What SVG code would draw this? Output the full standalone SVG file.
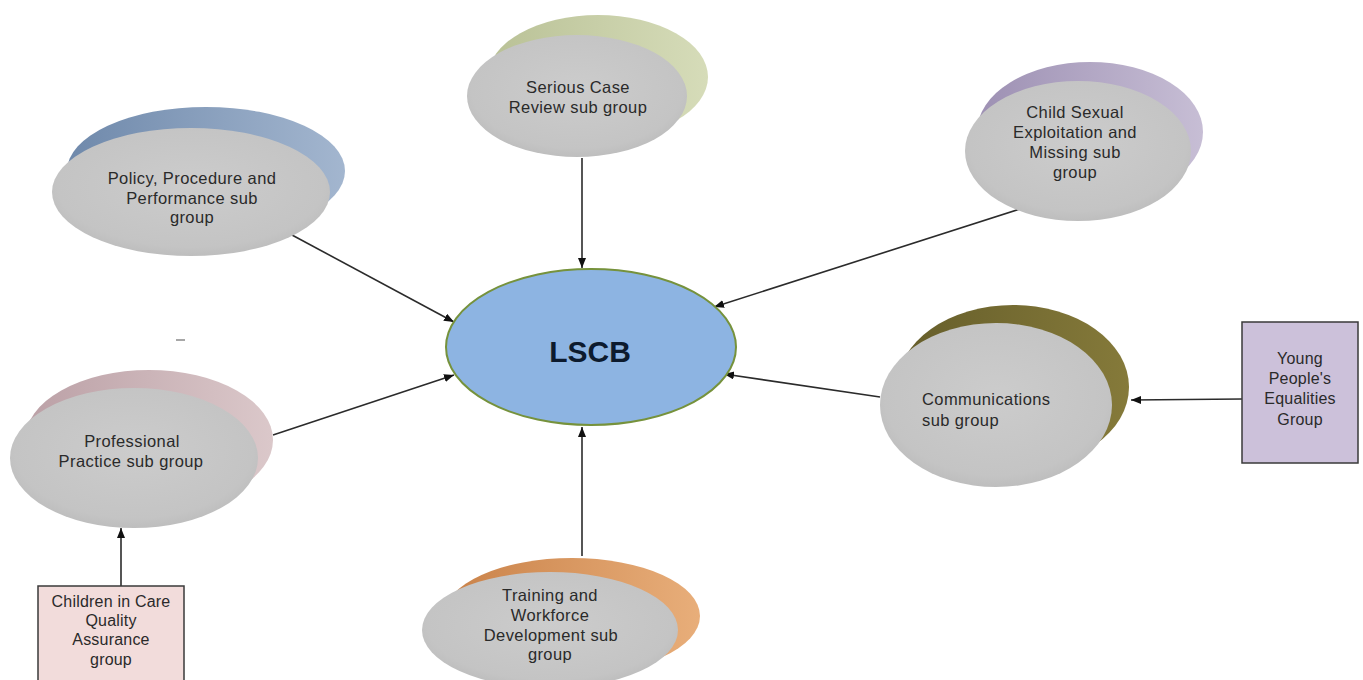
<svg xmlns="http://www.w3.org/2000/svg" width="1363" height="680" viewBox="0 0 1363 680">
<style>
.lbl{font-family:"Liberation Sans",Arial,sans-serif;font-size:16.5px;fill:#2a2a2a;text-anchor:middle;letter-spacing:0.4px}
.lft{text-anchor:start}
.box{font-size:16px;letter-spacing:0.2px}
.disc{fill:url(#grey)}
.conn{stroke:#2b2b2b;stroke-width:1.6;fill:none;marker-end:url(#arr)}
.rect{stroke:#3a3a3a;stroke-width:1.5}
</style>
<defs>
<marker id="arr" markerUnits="userSpaceOnUse" markerWidth="11" markerHeight="9" refX="10" refY="4" orient="auto">
<path d="M0,0 L10,4 L0,8 z" fill="#111"/>
</marker>
<radialGradient id="grey" cx="0.5" cy="0.45" r="0.6">
<stop offset="0" stop-color="#cccccc"/>
<stop offset="0.8" stop-color="#c4c4c4"/>
<stop offset="1" stop-color="#b9b9b9"/>
</radialGradient>
<linearGradient id="gSage" x1="0" y1="0" x2="1" y2="0"><stop offset="0" stop-color="#b9c196"/><stop offset="1" stop-color="#d6dcb9"/></linearGradient>
<linearGradient id="gBlue" x1="0" y1="0" x2="1" y2="0"><stop offset="0" stop-color="#6f89ab"/><stop offset="1" stop-color="#a3b6cf"/></linearGradient>
<linearGradient id="gLav" x1="0" y1="0" x2="1" y2="0"><stop offset="0" stop-color="#9d90b3"/><stop offset="1" stop-color="#c7bed5"/></linearGradient>
<linearGradient id="gPink" x1="0" y1="0" x2="1" y2="0"><stop offset="0" stop-color="#bba0a6"/><stop offset="1" stop-color="#dbc8ca"/></linearGradient>
<linearGradient id="gOlive" x1="0" y1="0" x2="1" y2="0"><stop offset="0" stop-color="#655d2a"/><stop offset="1" stop-color="#857a3a"/></linearGradient>
<linearGradient id="gOrange" x1="0" y1="0" x2="1" y2="0"><stop offset="0" stop-color="#c98148"/><stop offset="1" stop-color="#e8ae7a"/></linearGradient>
</defs>
<rect width="1363" height="680" fill="#ffffff"/>

<path d="M176,340 L185,340" stroke="#8a8a8a" stroke-width="1.5"/>

<g id="connectors">
<line class="conn" x1="582" y1="158" x2="582" y2="268"/>
<line class="conn" x1="292" y1="235" x2="454" y2="322"/>
<line class="conn" x1="1020" y1="209" x2="714" y2="307"/>
<line class="conn" x1="880" y1="397" x2="724" y2="374"/>
<line class="conn" x1="273" y1="435" x2="454" y2="375"/>
<line class="conn" x1="582" y1="556" x2="582" y2="427"/>
<line class="conn" x1="121" y1="586" x2="121" y2="528"/>
<line class="conn" x1="1242" y1="399" x2="1131" y2="400"/>
</g>

<g id="lscb">
<ellipse cx="591" cy="347" rx="145" ry="78" fill="#8db4e2" stroke="#76923c" stroke-width="2"/>
<text x="590" y="362" style="font-family:'Liberation Sans',Arial,sans-serif;font-size:30px;font-weight:bold;fill:#0d1b2e;text-anchor:middle">LSCB</text>
</g>

<g id="serious-case">
<ellipse cx="598" cy="77" rx="110" ry="62" fill="url(#gSage)"/>
<ellipse class="disc" cx="577" cy="96" rx="110" ry="61"/>
<text class="lbl" x="578" y="93">Serious Case</text>
<text class="lbl" x="578" y="113">Review sub group</text>
</g>

<g id="policy">
<ellipse cx="206" cy="171" rx="139" ry="64" fill="url(#gBlue)"/>
<ellipse class="disc" cx="191" cy="192" rx="139" ry="64"/>
<text class="lbl" x="192" y="184">Policy, Procedure and</text>
<text class="lbl" x="192" y="204">Performance sub</text>
<text class="lbl" x="192" y="223">group</text>
</g>

<g id="cse">
<ellipse cx="1090" cy="132" rx="113" ry="70" fill="url(#gLav)"/>
<ellipse class="disc" cx="1078" cy="151" rx="113" ry="70"/>
<text class="lbl" x="1075" y="118">Child Sexual</text>
<text class="lbl" x="1075" y="138">Exploitation and</text>
<text class="lbl" x="1075" y="158">Missing sub</text>
<text class="lbl" x="1075" y="178">group</text>
</g>

<g id="professional">
<ellipse cx="149" cy="440" rx="124" ry="70" fill="url(#gPink)"/>
<ellipse class="disc" cx="134" cy="458" rx="124" ry="70"/>
<text class="lbl" x="132" y="447">Professional</text>
<text class="lbl" x="131" y="467">Practice sub group</text>
</g>

<g id="communications">
<ellipse cx="1013" cy="387" rx="116" ry="82" fill="url(#gOlive)"/>
<ellipse class="disc" cx="996" cy="405" rx="116" ry="82"/>
<text class="lbl lft" x="922" y="405">Communications</text>
<text class="lbl lft" x="922" y="426">sub group</text>
</g>

<g id="training">
<ellipse cx="572" cy="616" rx="128" ry="58" fill="url(#gOrange)"/>
<ellipse class="disc" cx="550" cy="630" rx="128" ry="58"/>
<text class="lbl" x="550" y="601">Training and</text>
<text class="lbl" x="550" y="621">Workforce</text>
<text class="lbl" x="551" y="641">Development sub</text>
<text class="lbl" x="550" y="660">group</text>
</g>

<g id="young-people">
<rect class="rect" x="1242" y="322" width="116" height="141" fill="#ccc1da"/>
<text class="lbl box" x="1300" y="364">Young</text>
<text class="lbl box" x="1300" y="384">People's</text>
<text class="lbl box" x="1300" y="404">Equalities</text>
<text class="lbl box" x="1300" y="425">Group</text>
</g>

<g id="children-in-care">
<rect class="rect" x="38" y="586" width="146" height="110" fill="#f2dcdb"/>
<text class="lbl box" x="111" y="607">Children in Care</text>
<text class="lbl box" x="111" y="626">Quality</text>
<text class="lbl box" x="111" y="645">Assurance</text>
<text class="lbl box" x="111" y="665">group</text>
</g>
</svg>
